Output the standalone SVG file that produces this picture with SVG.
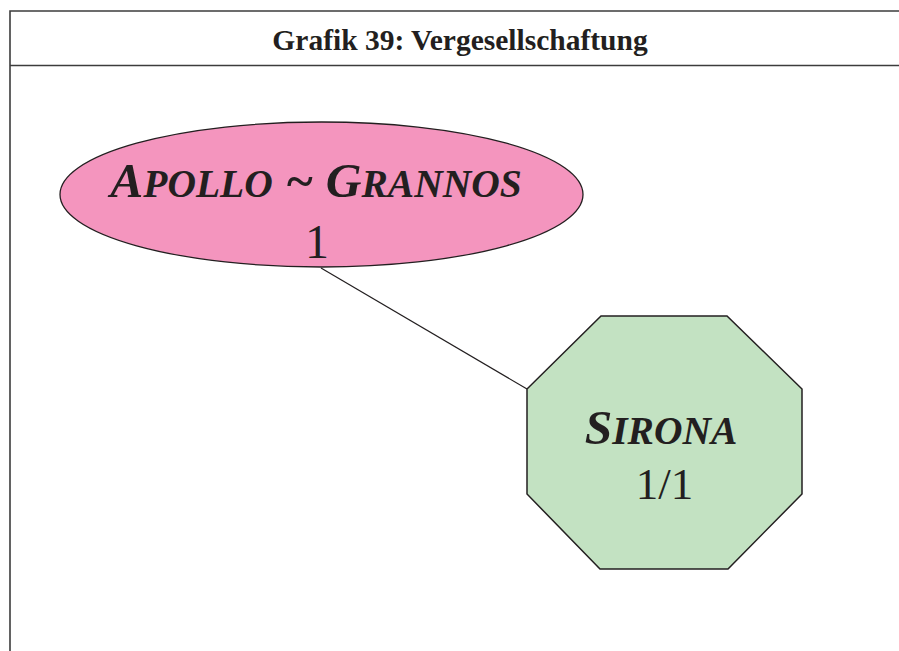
<svg xmlns="http://www.w3.org/2000/svg" width="899" height="651" viewBox="0 0 899 651">
<style>
.frame{fill:none;stroke:#3c3c3c;stroke-width:1.6}
.title{font-family:"Liberation Serif",serif;font-weight:bold;font-size:29.5px;fill:#231f20}
.name{font-family:"Liberation Serif",serif;font-weight:bold;font-style:italic;font-size:49.5px;fill:#231f20}
.sc{font-size:39.5px}
.num{font-family:"Liberation Serif",serif;font-size:48px;fill:#231f20}
.edge{stroke:#231f20;stroke-width:1.2;fill:none}
</style>
<rect width="899" height="651" fill="#ffffff"/>
<g id="frame">
<path class="frame" d="M900,11 H10 V652 M10,65.5 H900"/>
<text class="title" x="460" y="49.5" text-anchor="middle">Grafik 39: Vergesellschaftung</text>
</g>
<g id="connectors">
<line class="edge" x1="321" y1="268" x2="527" y2="389"/>
</g>
<g id="apollo-grannos">
<ellipse cx="321.5" cy="194.5" rx="261.5" ry="72.5" fill="#f495be" stroke="#231f20" stroke-width="1.3"/>
<text class="name" x="316" y="197" text-anchor="middle">A<tspan class="sc">POLLO</tspan> ~ G<tspan class="sc">RANNOS</tspan></text>
<text class="num" x="317" y="258" text-anchor="middle">1</text>
</g>
<g id="sirona">
<polygon points="601,316 727,316 802,389 802,494 728,569 600,569 527,494 527,389" fill="#c3e2c2" stroke="#231f20" stroke-width="1.5"/>
<text class="name" x="661" y="444" text-anchor="middle">S<tspan class="sc">IRONA</tspan></text>
<text class="num" x="664.5" y="499" text-anchor="middle" style="font-size:45px">1/1</text>
</g>
</svg>
